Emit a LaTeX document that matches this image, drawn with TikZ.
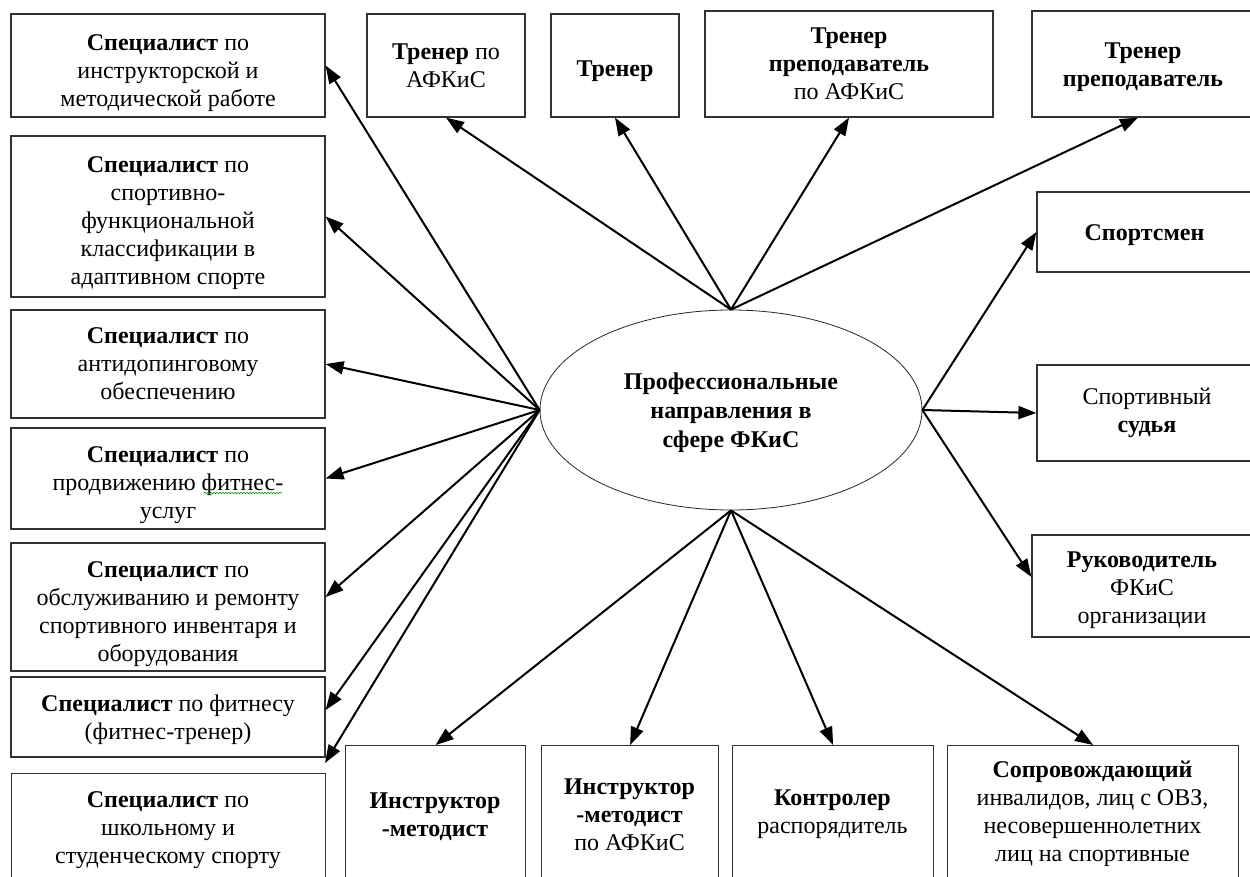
\documentclass[tikz,border=0pt]{standalone}
\usepackage{fontspec}
\setmainfont{Liberation Serif}
\usetikzlibrary{arrows.meta,shapes.geometric,decorations.pathmorphing}
\newcommand\liftstrut[1]{\rule{0pt}{#1pt}}
\begin{document}
\begin{tikzpicture}[x=1pt,y=-1pt,
  box/.style={draw=black!80, line width=1.2pt, rectangle, inner sep=0pt, align=center,
    font=\fontsize{24}{28}\selectfont},
  txt/.style={align=center, inner sep=0pt, font=\fontsize{24}{28}\selectfont},
  conn/.style={line width=2pt, -{Triangle[length=18pt,width=13pt]}}
]
\clip (0,0) rectangle (1250,877);
\fill[white] (0,0) rectangle (1250,877);

% centre
\node[ellipse, draw=black!85, line width=0.8pt, minimum width=382pt, minimum height=200pt,
  inner sep=0pt, align=center, font=\fontsize{24}{29}\selectfont\bfseries] (c) at (731,410)
  {\liftstrut{22.5}Профессиональные\\направления в\\сфере ФКиС};

% left column
\node[box, minimum width=314pt, minimum height=103pt] (b1) at (168,65.5)
  {\liftstrut{30.5}\textbf{Специалист} по\\инструкторской и\\методической работе};
\node[box, minimum width=314pt, minimum height=161pt] (b2) at (168,216.5)
  {\liftstrut{28.5}\textbf{Специалист} по\\спортивно-\\функциональной\\классификации в\\адаптивном спорте};
\node[box, minimum width=314pt, minimum height=108pt] (b3) at (168,364)
  {\textbf{Специалист} по\\антидопинговому\\обеспечению};
\node[box, minimum width=314pt, minimum height=101pt] (b4) at (168,478.5)
  {\liftstrut{28.5}\textbf{Специалист} по\\продвижению фитнес-\\услуг};
\draw[green!55!black, line width=0.6pt, decorate, decoration={snake, amplitude=0.7pt, segment length=3pt}]
  (204,493) -- (282,493);
\node[box, minimum width=314pt, minimum height=128pt] (b5) at (168,607)
  {\liftstrut{30.5}\textbf{Специалист} по\\обслуживанию и ремонту\\спортивного инвентаря и\\оборудования};
\node[box, minimum width=314pt, minimum height=80pt] (b6) at (168,717)
  {\liftstrut{22.5}\textbf{Специалист} по фитнесу\\(фитнес-тренер)};
\node[box, minimum width=314pt, minimum height=160pt, anchor=north west] (b7) at (11,773) {};
\node[txt] (b7t) at (168,830) {\textbf{Специалист} по\\школьному и\\студенческому спорту};

% top row
\node[box, minimum width=158pt, minimum height=103pt] (t1) at (446,65.5)
  {\textbf{Тренер} по\\АФКиС};
\node[box, minimum width=128pt, minimum height=103pt] (t2) at (615,65.5)
  {\liftstrut{26.5}\textbf{Тренер}};
\node[box, minimum width=288pt, minimum height=106pt] (t3) at (849,64)
  {\textbf{Тренер}\\\textbf{преподаватель}\\по АФКиС};
\node[box, minimum width=222pt, minimum height=106pt] (t4) at (1143,64)
  {\liftstrut{22.5}\textbf{Тренер}\\\textbf{преподаватель}};

% right column
\node[box, minimum width=215pt, minimum height=80pt] (r1) at (1144.5,232)
  {\liftstrut{22.5}\textbf{Спортсмен}};
\node[box, minimum width=220pt, minimum height=96pt] (r2) at (1147,413)
  {Спортивный\\\textbf{судья}};
\node[box, minimum width=220pt, minimum height=102pt] (r3) at (1142,586)
  {\liftstrut{24.5}\textbf{Руководитель}\\ФКиС\\организации};

% bottom row
\node[box, minimum width=180pt, minimum height=160pt, anchor=north west] (d1) at (345,745) {};
\node[txt] (d1t) at (435,816.5) {\textbf{Инструктор}\\\textbf{-методист}};
\node[box, minimum width=177pt, minimum height=160pt, anchor=north west] (d2) at (541,745) {};
\node[txt] (d2t) at (629.5,815) {\textbf{Инструктор}\\\textbf{-методист}\\по АФКиС};
\node[box, minimum width=201pt, minimum height=160pt, anchor=north west] (d3) at (732,745) {};
\node[txt] (d3t) at (832.5,814) {\textbf{Контролер}\\распорядитель};
\node[box, minimum width=291pt, minimum height=160pt, anchor=north west] (d4) at (947,745) {};
\node[txt] (d4t) at (1092.5,814) {\textbf{Сопровождающий}\\инвалидов, лиц с ОВЗ,\\несовершеннолетних\\лиц на спортивные};

% connectors: left
\coordinate (b7tip) at (325,763);
\draw[conn] (c.west) -- (b1.east);
\draw[conn] (c.west) -- (b2.east);
\draw[conn] (c.west) -- (b3.east);
\draw[conn] (c.west) -- (b4.east);
\draw[conn] (c.west) -- ([yshift=10pt]b5.east);
\draw[conn] (c.west) -- ([yshift=7pt]b6.east);
\draw[conn] (c.west) -- (b7tip);
% top
\draw[conn] (c.north) -- (t1.south);
\draw[conn] (c.north) -- (t2.south);
\draw[conn] (c.north) -- (t3.south);
\draw[conn] (c.north) -- ([xshift=-5pt]t4.south);
% right
\draw[conn] (c.east) -- (r1.west);
\draw[conn] (c.east) -- (r2.west);
\draw[conn] (c.east) -- ([yshift=9pt]r3.west);
% bottom
\draw[conn] (c.south) -- (d1.north);
\draw[conn] (c.south) -- (d2.north);
\draw[conn] (c.south) -- (d3.north);
\draw[conn] (c.south) -- (d4.north);
\end{tikzpicture}
\end{document}
